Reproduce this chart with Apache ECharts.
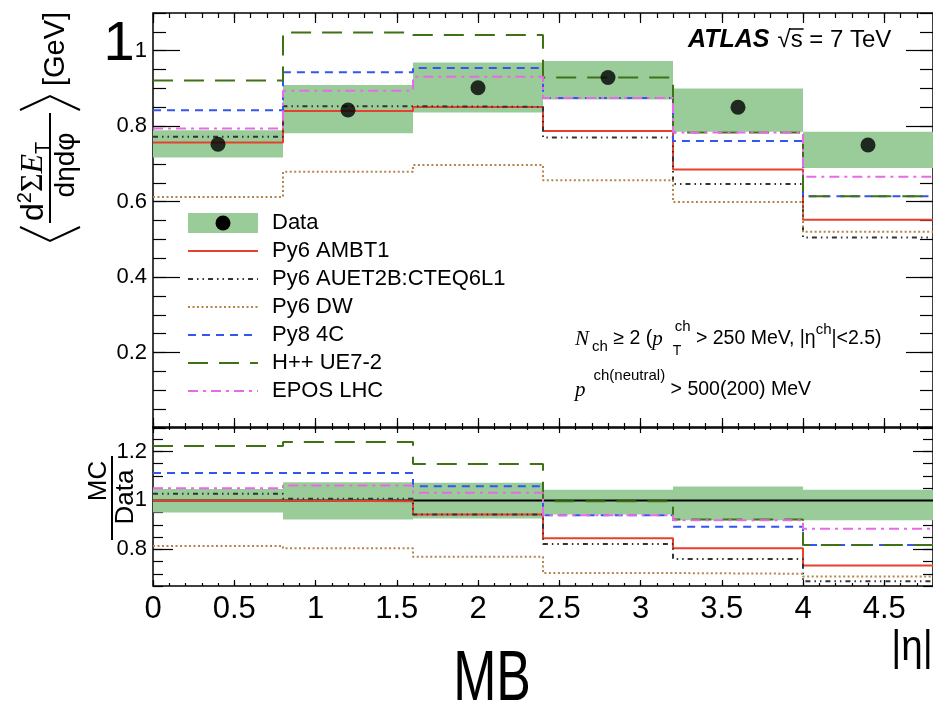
<!DOCTYPE html>
<html>
<head>
<meta charset="utf-8">
<script src="https://cdn.jsdelivr.net/npm/echarts@6/dist/echarts.min.js"></script>
<style>
  html, body { margin: 0; padding: 0; background: #fff; }
  #chart { width: 933px; height: 711px; }
</style>
</head>
<body>
<div id="chart"></div>
<script>
// |eta| bins
const binEdges = [0, 0.8, 1.6, 2.4, 3.2, 4.0, 4.8];
const binCenters = [0.4, 1.2, 2.0, 2.8, 3.6, 4.4];

// Measured <d2 sum ET / deta dphi> [GeV] and its systematic band
const dataVals = [0.752, 0.843, 0.902, 0.929, 0.850, 0.750];
const dataBandLo = [0.717, 0.781, 0.836, 0.871, 0.785, 0.689];
const dataBandHi = [0.789, 0.909, 0.969, 0.973, 0.900, 0.785];

// Generator predictions
const ambt1 = [0.757, 0.840, 0.851, 0.787, 0.685, 0.552];
const auet2b = [0.772, 0.853, 0.851, 0.770, 0.647, 0.505];
const dw = [0.612, 0.679, 0.697, 0.657, 0.599, 0.520];
const py8 = [0.842, 0.943, 0.954, 0.875, 0.761, 0.614];
const herwig = [0.921, 1.048, 1.042, 0.929, 0.783, 0.614];
const epos = [0.794, 0.894, 0.931, 0.875, 0.783, 0.666];

// MC / Data ratios
const ratioBandLo = [0.950, 0.922, 0.926, 0.942, 0.919, 0.919];
const ratioBandHi = [1.047, 1.074, 1.072, 1.043, 1.057, 1.043];
const ambt1Ratio = [1.000, 0.996, 0.942, 0.845, 0.804, 0.734];
const auet2bRatio = [1.027, 1.007, 0.942, 0.822, 0.760, 0.669];
const dwRatio = [0.814, 0.804, 0.770, 0.703, 0.700, 0.689];
const py8Ratio = [1.112, 1.112, 1.058, 0.939, 0.892, 0.818];
const herwigRatio = [1.222, 1.239, 1.149, 0.996, 0.922, 0.818];
const eposRatio = [1.050, 1.061, 1.031, 0.939, 0.919, 0.884];

// Axis ticks
const xMajorTicks = [0, 0.5, 1, 1.5, 2, 2.5, 3, 3.5, 4, 4.5];
const topYTicks = [0.2, 0.4, 0.6, 0.8, 1.0];
const ratioYTicks = [0.8, 1.0, 1.2];

const legendLabels = ['Data', 'Py6 AMBT1', 'Py6 AUET2B:CTEQ6L1', 'Py6 DW', 'Py8 4C', 'H++ UE7-2', 'EPOS LHC'];

// ---------------------------------------------------------------------------
const BAND = '#99cc99';
const SANS = '"Liberation Sans", Arial, sans-serif';
const SERIF = '"Liberation Serif", "DejaVu Serif", serif';

const models = [
  { top: ambt1, ratio: ambt1Ratio, color: '#e8402f', dash: 'solid', width: 2 },
  { top: auet2b, ratio: auet2bRatio, color: '#333333', dash: [5, 4, 1.5, 4, 1.5, 4], width: 2 },
  { top: dw, ratio: dwRatio, color: '#b5844f', dash: [2, 2.5], width: 2 },
  { top: py8, ratio: py8Ratio, color: '#3355f0', dash: [8, 6], width: 2 },
  { top: herwig, ratio: herwigRatio, color: '#3f7214', dash: [20, 11], width: 2 },
  { top: epos, ratio: eposRatio, color: '#e86ae8', dash: [10, 5, 3, 5], width: 2 }
];

function stepPoints(vals) {
  const pts = vals.map((v, i) => [binEdges[i], v]);
  pts.push([binEdges[binEdges.length - 1], vals[vals.length - 1]]);
  return pts;
}
function bandRows(lo, hi) {
  return lo.map((l, i) => [binEdges[i], binEdges[i + 1], l, hi[i]]);
}
function bandItem(params, api) {
  const p0 = api.coord([api.value(0), api.value(3)]);
  const p1 = api.coord([api.value(1), api.value(2)]);
  return {
    type: 'rect',
    shape: { x: p0[0], y: p0[1], width: p1[0] - p0[0], height: p1[1] - p0[1] },
    style: { fill: BAND }
  };
}

const tickStyle = { color: '#000', width: 1.2 };

function xAxis(grid, pos, major, len, withLabels) {
  const ax = {
    type: 'value', gridIndex: grid, position: pos, min: 0, max: 4.8,
    axisLine: { show: false, onZero: false },
    splitLine: { show: false },
    axisTick: { show: true, inside: true, length: len, lineStyle: tickStyle },
    axisLabel: { show: false }
  };
  if (major) {
    ax.axisTick.customValues = xMajorTicks;
  } else {
    ax.interval = 0.1;
  }
  if (withLabels) {
    ax.axisLabel = {
      show: true, customValues: xMajorTicks, margin: 8,
      fontFamily: SANS, fontSize: 31, color: '#000',
      formatter: v => String(+v.toFixed(2))
    };
  }
  return ax;
}
function yAxis(grid, pos, min, max, majorTicks, minorStep, len, withLabels) {
  const ax = {
    type: 'value', gridIndex: grid, position: pos, min: min, max: max,
    axisLine: { show: false, onZero: false },
    splitLine: { show: false },
    axisTick: { show: true, inside: true, length: len, lineStyle: tickStyle },
    axisLabel: { show: false }
  };
  if (majorTicks) ax.axisTick.customValues = majorTicks;
  else ax.interval = minorStep;
  if (withLabels) {
    ax.axisLabel = {
      show: true, customValues: majorTicks, margin: 6,
      fontFamily: SANS, fontSize: 22, color: '#000',
      formatter: v => String(+v.toFixed(2))
    };
  }
  return ax;
}

// text measuring for hand-set math labels
const mctx = document.createElement('canvas').getContext('2d');
function tw(t, font) { mctx.font = font; return mctx.measureText(t).width; }
function fontOf(p) {
  return `${p.style || 'normal'} ${p.weight || 'normal'} ${p.size}px ${p.family || SANS}`;
}
function runText(x, y, parts) {
  const els = [];
  let cx = x;
  parts.forEach(p => {
    const font = fontOf(p);
    cx += p.dx || 0;
    els.push({
      type: 'text', x: cx, y: y + (p.dy || 0),
      style: { text: p.t, font: font, fill: '#000', align: 'left', verticalAlign: 'middle',
               textAlign: 'left', textVerticalAlign: 'middle' }
    });
    p.x0 = cx;
    p.w = tw(p.t, font);
    if (!p.hold) cx += p.w;
  });
  return els;
}
function centeredText(x, y, t, font, extra) {
  return Object.assign({
    type: 'text', x: x, y: y,
    style: { text: t, font: font, fill: '#000', align: 'center', verticalAlign: 'middle',
             textAlign: 'center', textVerticalAlign: 'middle' }
  }, extra || {});
}

// ---------------------------------------------------------------------------
const series = [];
// upper panel
series.push({
  type: 'custom', xAxisIndex: 0, yAxisIndex: 0, renderItem: bandItem,
  encode: { x: [0, 1], y: [2, 3] }, data: bandRows(dataBandLo, dataBandHi), z: 1, silent: true
});
models.forEach(m => {
  series.push({
    type: 'line', xAxisIndex: 0, yAxisIndex: 0, step: 'end', symbol: 'none',
    data: stepPoints(m.top), z: 3, silent: true,
    lineStyle: { color: m.color, width: m.width, type: m.dash }
  });
});
series.push({
  type: 'scatter', xAxisIndex: 0, yAxisIndex: 0, symbol: 'circle', symbolSize: 15,
  itemStyle: { color: '#000' }, z: 5, silent: true,
  data: binCenters.map((c, i) => [c, dataVals[i]])
});
// ratio panel
series.push({
  type: 'custom', xAxisIndex: 4, yAxisIndex: 4, renderItem: bandItem,
  encode: { x: [0, 1], y: [2, 3] }, data: bandRows(ratioBandLo, ratioBandHi), z: 1, silent: true
});
series.push({
  type: 'line', xAxisIndex: 4, yAxisIndex: 4, symbol: 'none', z: 2, silent: true,
  data: [[0, 1], [4.8, 1]], lineStyle: { color: '#000', width: 2 }
});
models.forEach(m => {
  series.push({
    type: 'line', xAxisIndex: 4, yAxisIndex: 4, step: 'end', symbol: 'none',
    data: stepPoints(m.ratio), z: 3, silent: true,
    lineStyle: { color: m.color, width: m.width, type: m.dash }
  });
});

// ---------------------------------------------------------------------------
const graphics = [];

// legend
const legX0 = 188, legX1 = 258, legY0 = 223, legStep = 28;
graphics.push({ type: 'rect', shape: { x: legX0, y: legY0 - 10, width: legX1 - legX0, height: 20 }, style: { fill: BAND } });
graphics.push({ type: 'circle', shape: { cx: (legX0 + legX1) / 2, cy: legY0, r: 7.5 }, style: { fill: '#000' } });
models.forEach((m, i) => {
  const y = legY0 + (i + 1) * legStep;
  graphics.push({
    type: 'line', shape: { x1: legX0, y1: y, x2: legX1, y2: y },
    style: { stroke: m.color, lineWidth: m.width, lineDash: m.dash === 'solid' ? null : m.dash }
  });
});
legendLabels.forEach((t, i) => {
  graphics.push({
    type: 'text', x: 272, y: legY0 + i * legStep,
    style: { text: t, font: `22px ${SANS}`, fill: '#000', align: 'left', verticalAlign: 'middle',
             textAlign: 'left', textVerticalAlign: 'middle' }
  });
});

// experiment label, with the bar of the square root over "s"
const atlasParts = [
  { t: 'ATLAS', size: 25, style: 'italic', weight: 'bold' },
  { t: '\u221A', size: 24, dx: 8 },
  { t: 's', size: 24 },
  { t: ' = 7 TeV', size: 24 }
];
graphics.push(...runText(688, 40, atlasParts));
graphics.push({
  type: 'line',
  shape: { x1: atlasParts[1].x0 + atlasParts[1].w - 1, y1: 29, x2: atlasParts[2].x0 + atlasParts[2].w + 1, y2: 29 },
  style: { stroke: '#000', lineWidth: 1.5 }
});

// event selection
graphics.push(...runText(575, 339, [
  { t: 'N', size: 21, style: 'italic', family: SERIF },
  { t: 'ch', size: 15, dy: 8, dx: 3 },
  { t: ' \u2265 2 (', size: 19.5 },
  { t: 'p', size: 21, style: 'italic', family: SERIF },
  { t: 'T', size: 14, dy: 12, dx: 10, hold: true },
  { t: 'ch', size: 15, dy: -12, dx: 2 },
  { t: ' > 250 MeV, |\u03B7', size: 19.5 },
  { t: 'ch', size: 15, dy: -9 },
  { t: '|<2.5)', size: 19.5 }
]));
graphics.push(...runText(575, 390, [
  { t: 'p', size: 21, style: 'italic', family: SERIF },
  { t: 'ch(neutral)', size: 15, dy: -14, dx: 8 },
  { t: ' > 500(200) MeV', size: 19.5 }
]));

// large marker digit next to the axis
graphics.push(centeredText(119, 45, '1', `56px ${SANS}`));

// axis titles (condensed lettering)
graphics.push(centeredText(912, 648, '|\u03B7|', `42px ${SANS}`, { scaleX: 0.92 }));
graphics.push(centeredText(492, 681, 'MB', `70px ${SANS}`, { scaleX: 0.74 }));

// upper y title, drawn bottom-to-top
const yTitle = [
  { type: 'polyline', shape: { points: [[16, 20], [2, 50], [16, 80]] }, style: { stroke: '#000', lineWidth: 2, fill: null } },
  ...runText(22, 34, [
    { t: 'd', size: 32 },
    { t: '2', size: 20, dy: -9 },
    { t: '\u03A3', size: 32, family: SERIF },
    { t: 'E', size: 32, style: 'italic', family: SERIF },
    { t: 'T', size: 20, dy: 9 }
  ]),
  { type: 'line', shape: { x1: 20, y1: 50, x2: 130, y2: 50 }, style: { stroke: '#000', lineWidth: 2 } },
  centeredText(78, 66, 'd\u03B7d\u03C6', `28px ${SANS}`),
  { type: 'polyline', shape: { points: [[133, 20], [147, 50], [133, 80]] }, style: { stroke: '#000', lineWidth: 2, fill: null } },
  ...runText(157, 56, [{ t: '[GeV]', size: 29 }])
];
graphics.push({ type: 'group', x: 0, y: 243, rotation: Math.PI / 2, children: yTitle });

// ratio y title
graphics.push({
  type: 'group', x: 0, y: 540, rotation: Math.PI / 2, children: [
    centeredText(59, 99, 'MC', `26px ${SANS}`),
    { type: 'line', shape: { x1: 0, y1: 112, x2: 84, y2: 112 }, style: { stroke: '#000', lineWidth: 2 } },
    centeredText(43, 126, 'Data', `26px ${SANS}`)
  ]
});

// ---------------------------------------------------------------------------
const chart = echarts.init(document.getElementById('chart'), null, { renderer: 'canvas' });
chart.setOption({
  backgroundColor: '#fff',
  animation: false,
  grid: [
    { left: 153, top: 13, right: 0, height: 415, show: true, borderColor: '#000', borderWidth: 1.5, backgroundColor: 'transparent' },
    { left: 153, top: 427, right: 0, height: 159, show: true, borderColor: '#000', borderWidth: 1.5, backgroundColor: 'transparent' }
  ],
  xAxis: [
    xAxis(0, 'bottom', true, 10, false),
    xAxis(0, 'bottom', false, 5, false),
    xAxis(0, 'top', true, 10, false),
    xAxis(0, 'top', false, 5, false),
    xAxis(1, 'bottom', true, 6, true),
    xAxis(1, 'bottom', false, 3, false),
    xAxis(1, 'top', true, 6, false),
    xAxis(1, 'top', false, 3, false)
  ],
  yAxis: [
    yAxis(0, 'left', 0, 1.1, topYTicks, null, 27, true),
    yAxis(0, 'left', 0, 1.1, null, 0.05, 13, false),
    yAxis(0, 'right', 0, 1.1, topYTicks, null, 27, false),
    yAxis(0, 'right', 0, 1.1, null, 0.05, 13, false),
    yAxis(1, 'left', 0.65, 1.3, ratioYTicks, null, 20, true),
    yAxis(1, 'left', 0.65, 1.3, null, 0.05, 10, false),
    yAxis(1, 'right', 0.65, 1.3, ratioYTicks, null, 20, false),
    yAxis(1, 'right', 0.65, 1.3, null, 0.05, 10, false)
  ],
  series: series,
  graphic: { elements: graphics }
});
</script>
</body>
</html>
